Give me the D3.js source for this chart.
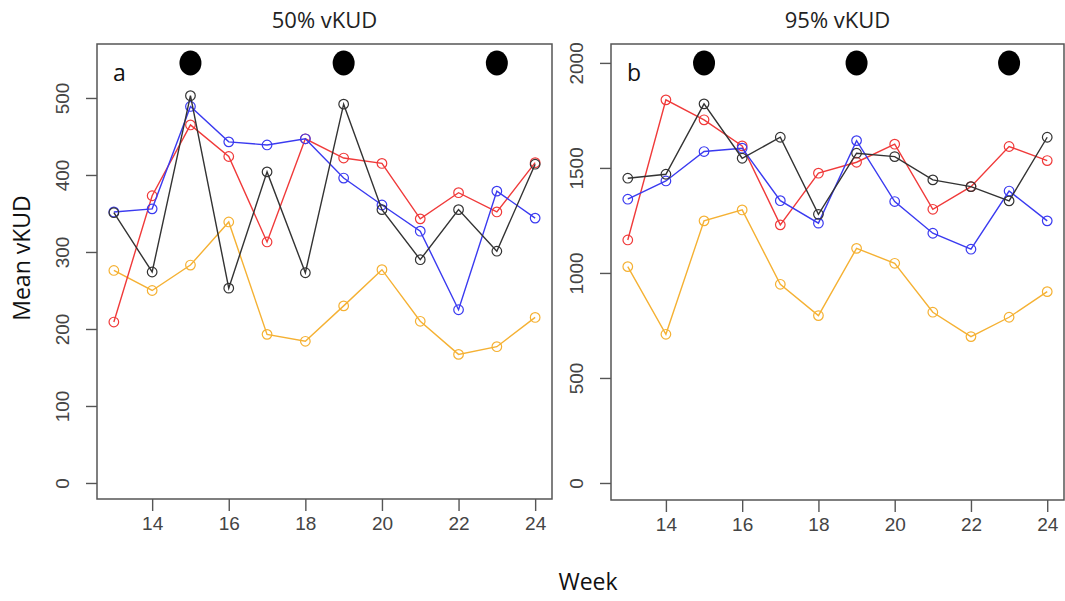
<!DOCTYPE html>
<html>
<head>
<meta charset="utf-8">
<script src="https://cdn.jsdelivr.net/npm/d3@7"></script>
<style>
  html, body { margin: 0; padding: 0; background: #ffffff; }
  svg { display: block; }
</style>
</head>
<body>
<svg id="chart" width="1065" height="601"></svg>
<script>
// Weeks sampled
const weeks = [13, 14, 15, 16, 17, 18, 19, 20, 21, 22, 23, 24];
// Weeks flagged with a filled marker along the top of each panel
const eventWeeks = [15, 19, 23];

// Panel a: 50% vKUD means per group
const core50Black  = [351, 274, 503, 253, 404, 273, 492, 355, 290, 355, 301, 414];
const core50Blue   = [352, 356, 489, 443, 439, 447, 396, 361, 327, 225, 379, 344];
const core50Red    = [209, 373, 465, 424, 313, 447, 422, 415, 343, 377, 352, 416];
const core50Orange = [276, 250, 283, 339, 193, 184, 230, 277, 210, 167, 177, 215];

// Panel b: 95% vKUD means per group
const range95Black  = [1451, 1470, 1805, 1546, 1646, 1279, 1570, 1554, 1443, 1411, 1343, 1646];
const range95Blue   = [1351, 1438, 1578, 1594, 1344, 1237, 1630, 1340, 1189, 1113, 1390, 1248];
const range95Red    = [1157, 1824, 1729, 1605, 1229, 1475, 1527, 1613, 1303, 1411, 1602, 1535];
const range95Orange = [1030, 708, 1248, 1300, 946, 797, 1117, 1046, 813, 697, 789, 911];

// Tick labels
const xTicks = [14, 16, 18, 20, 22, 24];
const yTicks50 = [0, 100, 200, 300, 400, 500];
const yTicks95 = [0, 500, 1000, 1500, 2000];

const colors = { black: "#333333", blue: "#3a3af0", red: "#f03a3a", orange: "#f5b133" };

const svg = d3.select("#chart");

const panels = [
  {
    title: "50% vKUD", tag: "a",
    box: { x0: 97, x1: 552, y0: 44, y1: 499 },
    yDomain: [-20.8, 570.1], yTicks: yTicks50,
    series: [
      { values: core50Orange, color: colors.orange },
      { values: core50Red, color: colors.red },
      { values: core50Blue, color: colors.blue },
      { values: core50Black, color: colors.black }
    ]
  },
  {
    title: "95% vKUD", tag: "b",
    box: { x0: 611, x1: 1064, y0: 44, y1: 500 },
    yDomain: [-81, 2090], yTicks: yTicks95,
    series: [
      { values: range95Orange, color: colors.orange },
      { values: range95Red, color: colors.red },
      { values: range95Blue, color: colors.blue },
      { values: range95Black, color: colors.black }
    ]
  }
];

const tickFont = "'Liberation Sans', Arial, sans-serif";
const labelFont = "'Open Sans', 'Noto Sans', sans-serif";

panels.forEach(p => {
  const b = p.box;
  const x = d3.scaleLinear().domain([12.56, 24.44]).range([b.x0, b.x1]);
  const y = d3.scaleLinear().domain(p.yDomain).range([b.y1, b.y0]);

  const g = svg.append("g");

  // Title above the panel
  g.append("text")
    .attr("x", (b.x0 + b.x1) / 2)
    .attr("y", 28)
    .attr("text-anchor", "middle")
    .attr("font-family", labelFont)
    .attr("font-size", 22)
    .attr("fill", "#222")
    .text(p.title);

  // X axis
  const xAxis = g.append("g")
    .attr("transform", `translate(0,${b.y1})`)
    .call(d3.axisBottom(x).tickValues(xTicks).tickSize(12).tickPadding(6).tickFormat(d3.format("d")));
  xAxis.select(".domain").remove();
  xAxis.selectAll("line").attr("stroke", "#555").attr("stroke-width", 1.4);
  xAxis.selectAll("text")
    .attr("font-family", tickFont).attr("font-size", 19).attr("fill", "#444");

  // Y axis, labels rotated parallel to the axis
  const yAxis = g.append("g")
    .attr("transform", `translate(${b.x0},0)`)
    .call(d3.axisLeft(y).tickValues(p.yTicks).tickSize(11).tickFormat(d3.format("d")));
  yAxis.select(".domain").remove();
  yAxis.selectAll("line").attr("stroke", "#555").attr("stroke-width", 1.4);
  yAxis.selectAll("text")
    .attr("font-family", tickFont).attr("font-size", 19).attr("fill", "#444")
    .attr("text-anchor", "middle")
    .attr("x", null).attr("dy", null)
    .attr("transform", "translate(-28,0) rotate(-90)");

  // Frame
  g.append("rect")
    .attr("x", b.x0).attr("y", b.y0)
    .attr("width", b.x1 - b.x0).attr("height", b.y1 - b.y0)
    .attr("fill", "none").attr("stroke", "#555").attr("stroke-width", 1.5);

  // Panel tag
  g.append("text")
    .attr("x", b.x0 + 16)
    .attr("y", 81)
    .attr("font-family", labelFont)
    .attr("font-size", 23)
    .attr("fill", "#111")
    .text(p.tag);

  // Event markers along the top
  g.selectAll("ellipse.event")
    .data(eventWeeks)
    .join("ellipse")
    .attr("class", "event")
    .attr("cx", d => x(d))
    .attr("cy", 63)
    .attr("rx", 11)
    .attr("ry", 12.5)
    .attr("fill", "#000");

  // Series: lines with open circle markers
  const line = d3.line().x((d, i) => x(weeks[i])).y(d => y(d));
  p.series.forEach(s => {
    g.append("path")
      .attr("d", line(s.values))
      .attr("fill", "none")
      .attr("stroke", s.color)
      .attr("stroke-width", 1.4);
    g.append("g").selectAll("circle")
      .data(s.values)
      .join("circle")
      .attr("cx", (d, i) => x(weeks[i]))
      .attr("cy", d => y(d))
      .attr("r", 4.8)
      .attr("fill", "none")
      .attr("stroke", s.color)
      .attr("stroke-width", 1.2);
  });
});

// Shared axis titles
svg.append("text")
  .attr("transform", "translate(30,258) rotate(-90)")
  .attr("text-anchor", "middle")
  .attr("font-family", labelFont)
  .attr("font-size", 23)
  .attr("fill", "#111")
  .text("Mean vKUD");

svg.append("text")
  .attr("x", 588)
  .attr("y", 590)
  .attr("text-anchor", "middle")
  .attr("font-family", labelFont)
  .attr("font-size", 23)
  .attr("fill", "#111")
  .text("Week");
</script>
</body>
</html>
